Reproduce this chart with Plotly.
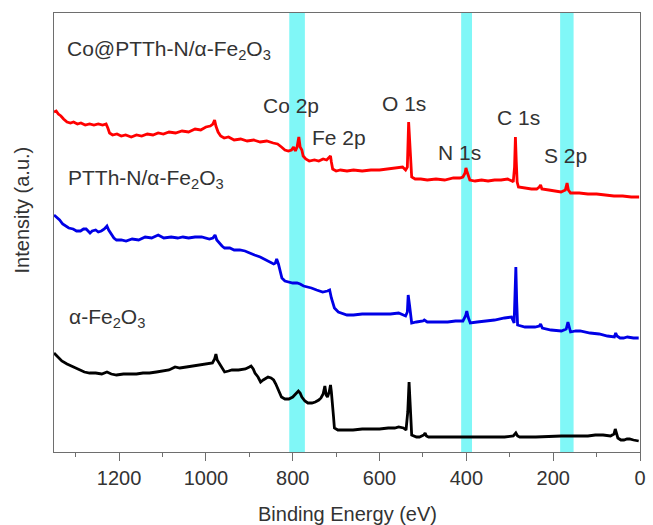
import plotly.graph_objects as go

# ---- data ----
red_ev = [1350,1345,1340,1334,1328,1320,1312,1305,1296,1288,1278,1268,1258,1248,1238,1230,1226,1222,1215,1205,
          1195,1185,1172,1160,1148,1135,1122,1110,1098,1085,1070,1055,1040,1025,1012,1000,990,984,980,977,
          972,966,958,948,935,920,905,890,875,860,845,835,826,818,810,803,798,794,790,786,
          783,779,776,770,762,750,740,730,722,716,713,711,708,700,690,675,660,640,620,600,
          580,560,547,540,536,533,531,529,526,518,505,490,470,450,430,415,408,403,401,399,
          396,392,380,365,350,335,320,305,295,292,289,287,285,283,280,265,250,238,232,229,
          226,210,195,182,172,168,165,160,140,120,100,80,60,40,20,2]
red_int = [340,341,338,336,333,330,329,330,328,329,327,328,327,328,327,328,324,319,317,318,
           316,317,315,317,316,318,317,319,318,320,319,321,320,323,322,325,326,328,332,326,
           320,316,314,315,312,313,311,312,310,311,309,308,305,302,301,302,305,301,305,315,
           305,302,296,293,291,292,291,293,292,295,296,290,283,281,282,281,282,281,282,282,
           283,284,285,282,285,330,310,290,275,273,273,272,273,272,274,274,275,279,284,281,
           277,272,271,272,271,272,272,273,271,270,285,315,290,270,265,264,263,263,265,267,
           263,262,261,260,262,269,262,259,259,258,258,257,256,256,255,255]

blue_ev = [1350,1344,1337,1330,1324,1316,1306,1298,1289,1282,1276,1270,1267,1262,1254,1248,1241,1234,1228,1224,
           1219,1212,1206,1195,1184,1170,1155,1140,1125,1110,1097,1080,1065,1053,1040,1025,1010,1000,992,984,
           979,975,970,963,957,945,935,922,910,900,888,875,861,850,844,840,837,833,829,825,
           818,809,800,790,783,775,765,757,745,731,720,715,711,707,704,695,687,675,660,640,
           617,595,575,556,545,540,536,534,531,528,526,515,500,497,490,470,443,425,408,402,
           399,396,391,375,355,335,312,296,290,287,286,284,282,265,242,232,229,225,205,181,
           170,166,162,160,148,138,115,94,75,59,56,53,46,38,29,15,3]
blue_int = [237,235,232,228,226,224,223,221,221,223,223,220,219,221,222,220,221,223,226,222,
            219,214,212,212,211,213,212,215,214,217,214,215,214,215,214,215,215,214,213,214,
            217,212,209,206,204,204,202,202,201,199,197,195,192,190,188,189,193,188,181,174,
            171,170,169,169,168,166,165,164,162,160,161,162,154,148,144,140,139,137,137,138,
            138,138,138,139,137,136,140,157,147,132,129,130,131,132,130,130,130,131,131,136,
            141,135,129,130,131,132,134,135,129,160,185,150,127,125,125,126,128,124,122,121,
            123,130,124,120,121,121,119,118,116,115,119,116,114,114,115,114,114]

black_ev = [1350,1342,1332,1320,1306,1293,1280,1268,1254,1240,1228,1218,1206,1190,1175,1160,1145,1130,1114,1100,
            1085,1071,1060,1045,1027,1010,1000,992,985,980,977,974,970,963,957,948,940,925,909,900,
            896,891,887,880,874,868,862,857,850,844,839,835,830,826,818,809,800,795,790,787,
            783,779,772,765,756,748,740,735,730,726,723,720,716,713,711,709,706,704,696,680,
            661,640,620,600,580,565,556,545,539,535,532,530,528,526,515,508,498,495,492,487,
            470,450,430,399,370,340,312,292,286,282,277,240,200,181,150,120,103,85,68,60,
            57,54,51,44,37,30,24,15,3]
black_int = [99,95,91,88,85,82,80,79,79,78,80,78,77,78,78,78,79,79,80,81,
             82,85,84,85,86,87,88,88,89,93,98,92,89,84,80,81,82,82,83,85,
             86,83,79,75,70,72,74,75,74,72,68,64,59,55,53,53,55,57,60,61,
             59,55,51,49,49,50,52,54,58,66,57,55,60,67,60,52,35,24,22,22,
             22,23,23,23,24,24,25,24,22,40,70,50,25,17,15,15,17,19,16,15,
             15,15,15,15,15,15,15,16,19,16,15,15,16,16,16,16,17,17,16,18,
             23,17,14,12,12,13,13,12,11]

band_ranges = [(772, 808), (387, 412), (153, 184)]

sample_labels = ["Co@PTTh-N/α-Fe<sub>2</sub>O<sub>3</sub>",
                 "PTTh-N/α-Fe<sub>2</sub>O<sub>3</sub>",
                 "α-Fe<sub>2</sub>O<sub>3</sub>"]
sample_label_pos = [(1325, 402), (1323, 273), (1320, 134)]

peak_labels = ["Co 2p", "Fe 2p", "O 1s", "N 1s", "C 1s", "S 2p"]
peak_label_pos = [(805, 347), (693, 315), (543, 349), (415, 300), (280, 335), (171, 297)]

x_ticks = [0, 200, 400, 600, 800, 1000, 1200]
x_minor = [100, 300, 500, 700, 900, 1100, 1300]

FONT = "Liberation Sans, Arial, sans-serif"
TXT = "#333333"
AX = "#6e6e6e"

fig = go.Figure()
for ev, inten, col in [(black_ev, black_int, "#000000"),
                       (blue_ev, blue_int, "#0000E6"),
                       (red_ev, red_int, "#FF0000")]:
    fig.add_trace(go.Scatter(x=ev, y=inten, mode="lines",
                             line=dict(color=col, width=2.8), hoverinfo="skip"))

for lo, hi in band_ranges:
    fig.add_shape(type="rect", xref="x", yref="paper", x0=lo, x1=hi, y0=0, y1=1,
                  fillcolor="#80F7F7", line=dict(width=0), layer="below")

for txt, (x, y) in zip(sample_labels, sample_label_pos):
    fig.add_annotation(x=x, y=y, xref="x", yref="y", text=txt, showarrow=False,
                       xanchor="left", yanchor="middle",
                       font=dict(family=FONT, size=21, color=TXT))
for txt, (x, y) in zip(peak_labels, peak_label_pos):
    fig.add_annotation(x=x, y=y, xref="x", yref="y", text=txt, showarrow=False,
                       xanchor="center", yanchor="middle",
                       font=dict(family=FONT, size=21, color=TXT))

# axis titles
fig.add_annotation(x=0.5, y=-0.1412, xref="paper", yref="paper", text="Binding Energy (eV)",
                   showarrow=False, xanchor="center", yanchor="middle",
                   font=dict(family=FONT, size=20, color=TXT))
fig.add_annotation(x=-0.054, y=0.551, xref="paper", yref="paper", text="Intensity (a.u.)",
                   showarrow=False, xanchor="center", yanchor="middle", textangle=-90,
                   font=dict(family=FONT, size=20, color=TXT))

fig.update_layout(
    width=653, height=525,
    margin=dict(l=54, r=7, t=13, b=73),
    plot_bgcolor="white", paper_bgcolor="white",
    showlegend=False,
    xaxis=dict(range=[1350, 0], tickvals=x_ticks, ticks="outside", ticklen=8,
               tickcolor=AX, tickwidth=1, linecolor=AX, linewidth=1, mirror=True,
               showgrid=False, zeroline=False,
               tickfont=dict(family=FONT, size=20, color=TXT),
               minor=dict(tickvals=x_minor, ticks="outside", ticklen=4,
                          tickcolor=AX, tickwidth=1, showgrid=False)),
    yaxis=dict(range=[0, 439], showticklabels=False, ticks="", linecolor=AX,
               linewidth=1, mirror=True, showgrid=False, zeroline=False),
)

fig.write_html("out.html")
